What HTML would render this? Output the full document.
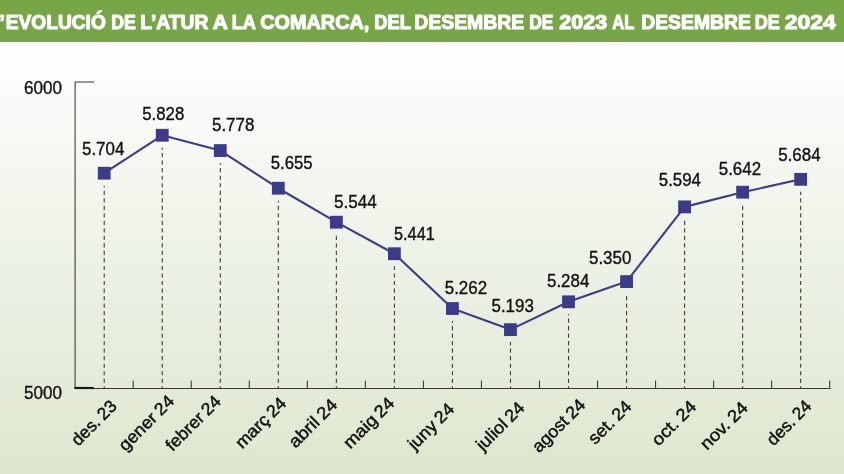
<!DOCTYPE html>
<html><head><meta charset="utf-8"><title>Evolució de l'atur</title>
<style>
html,body{margin:0;padding:0;background:#fff;}
body{width:844px;height:474px;overflow:hidden;font-family:"Liberation Sans",sans-serif;}
svg{display:block;will-change:transform;}
text{font-family:"Liberation Sans",sans-serif;}
</style></head><body>
<svg width="844" height="474" viewBox="0 0 844 474">
<defs>
<linearGradient id="bg" x1="0" y1="0" x2="0" y2="1">
<stop offset="0" stop-color="#ffffff"/>
<stop offset="0.12" stop-color="#fefefe"/>
<stop offset="0.5" stop-color="#eef3e8"/>
<stop offset="1" stop-color="#dde7cf"/>
</linearGradient>
</defs>
<rect x="0" y="0" width="844" height="474" fill="url(#bg)"/>
<rect x="0" y="0" width="844" height="42" fill="#76a646"/>

<g fill="#ffffff" stroke="#ffffff" stroke-width="1.1" stroke-linejoin="round" font-weight="bold" font-size="19.5">
<text x="-0.5" y="28.6">’</text>
<text x="5.75" y="28.6" textLength="100.04" lengthAdjust="spacingAndGlyphs">EVOLUCIÓ</text>
<text x="111.25" y="28.6" textLength="24.59" lengthAdjust="spacingAndGlyphs">DE</text>
<text x="140.25" y="28.6" textLength="68.07" lengthAdjust="spacingAndGlyphs">L’ATUR</text>
<text x="212.75" y="28.6" textLength="15.15" lengthAdjust="spacingAndGlyphs">A</text>
<text x="231.75" y="28.6" textLength="24.19" lengthAdjust="spacingAndGlyphs">LA</text>
<text x="260.25" y="28.6" textLength="109.04" lengthAdjust="spacingAndGlyphs">COMARCA,</text>
<text x="374.25" y="28.6" textLength="36.61" lengthAdjust="spacingAndGlyphs">DEL</text>
<text x="414.25" y="28.6" textLength="110.05" lengthAdjust="spacingAndGlyphs">DESEMBRE</text>
<text x="529.25" y="28.6" textLength="24.12" lengthAdjust="spacingAndGlyphs">DE</text>
<text x="559.25" y="28.6" textLength="48.03" lengthAdjust="spacingAndGlyphs">2023</text>
<text x="612.25" y="28.6" textLength="22.05" lengthAdjust="spacingAndGlyphs">AL</text>
<text x="641.25" y="28.6" textLength="109.54" lengthAdjust="spacingAndGlyphs">DESEMBRE</text>
<text x="754.75" y="28.6" textLength="25.14" lengthAdjust="spacingAndGlyphs">DE</text>
<text x="784.75" y="28.6" textLength="51.03" lengthAdjust="spacingAndGlyphs">2024</text>
</g>
<g stroke="#3c3c3c" stroke-width="1.1" fill="none" stroke-dasharray="4.2,3.32" stroke-dashoffset="2.0">
<line x1="104.2" y1="388.4" x2="104.2" y2="185.7"/>
<line x1="162.24" y1="388.4" x2="162.24" y2="147.8"/>
<line x1="220.28" y1="388.4" x2="220.28" y2="163.1"/>
<line x1="278.32" y1="388.4" x2="278.32" y2="200.7"/>
<line x1="336.36" y1="388.4" x2="336.36" y2="234.7"/>
<line x1="394.4" y1="388.4" x2="394.4" y2="266.2"/>
<line x1="452.44" y1="388.4" x2="452.44" y2="321.0"/>
<line x1="510.48" y1="388.4" x2="510.48" y2="342.1"/>
<line x1="568.52" y1="388.4" x2="568.52" y2="314.3"/>
<line x1="626.56" y1="388.4" x2="626.56" y2="294.1"/>
<line x1="684.6" y1="388.4" x2="684.6" y2="219.4"/>
<line x1="742.64" y1="388.4" x2="742.64" y2="204.7"/>
<line x1="800.68" y1="388.4" x2="800.68" y2="191.8"/>
</g>
<g stroke="#38382f" stroke-width="1.05" fill="none">
<path d="M94 82 H75.1 V388.45 H830.5"/>
<line x1="133.2" y1="380.5" x2="133.2" y2="388.45"/>
<line x1="191.24" y1="380.5" x2="191.24" y2="388.45"/>
<line x1="249.28" y1="380.5" x2="249.28" y2="388.45"/>
<line x1="307.32" y1="380.5" x2="307.32" y2="388.45"/>
<line x1="365.36" y1="380.5" x2="365.36" y2="388.45"/>
<line x1="423.4" y1="380.5" x2="423.4" y2="388.45"/>
<line x1="481.44" y1="380.5" x2="481.44" y2="388.45"/>
<line x1="539.48" y1="380.5" x2="539.48" y2="388.45"/>
<line x1="597.52" y1="380.5" x2="597.52" y2="388.45"/>
<line x1="655.56" y1="380.5" x2="655.56" y2="388.45"/>
<line x1="713.6" y1="380.5" x2="713.6" y2="388.45"/>
<line x1="771.64" y1="380.5" x2="771.64" y2="388.45"/>
<line x1="829.68" y1="380.5" x2="829.68" y2="388.45"/>
</g>
<line x1="74.5" y1="388" x2="93.8" y2="388" stroke="#1a1a1a" stroke-width="2.2"/>
<g fill="#111" font-size="17.5" stroke="#111" stroke-width="0.35">
<text x="24.00" y="94" textLength="38.03" lengthAdjust="spacingAndGlyphs">6000</text>
<text x="24.00" y="399" textLength="38.03" lengthAdjust="spacingAndGlyphs">5000</text>
</g>
<polyline points="104.2,173.22 162.24,135.26 220.28,150.56 278.32,188.22 336.36,222.2 394.4,253.73 452.44,308.53 510.48,329.65 568.52,301.8 626.56,281.59 684.6,206.89 742.64,192.2 800.68,179.34" fill="none" stroke="#3d3d86" stroke-width="2.1" stroke-linejoin="round"/>
<g fill="#3a3c88">
<rect x="97.80" y="166.82" width="12.8" height="12.8"/>
<rect x="155.84" y="128.86" width="12.8" height="12.8"/>
<rect x="213.88" y="144.16" width="12.8" height="12.8"/>
<rect x="271.92" y="181.82" width="12.8" height="12.8"/>
<rect x="329.96" y="215.80" width="12.8" height="12.8"/>
<rect x="388.00" y="247.33" width="12.8" height="12.8"/>
<rect x="446.04" y="302.13" width="12.8" height="12.8"/>
<rect x="504.08" y="323.25" width="12.8" height="12.8"/>
<rect x="562.12" y="295.40" width="12.8" height="12.8"/>
<rect x="620.16" y="275.19" width="12.8" height="12.8"/>
<rect x="678.20" y="200.49" width="12.8" height="12.8"/>
<rect x="736.24" y="185.80" width="12.8" height="12.8"/>
<rect x="794.28" y="172.94" width="12.8" height="12.8"/>
</g>
<g fill="#111" font-size="17.5" stroke="#111" stroke-width="0.35">
<text x="82.00" y="154.5" textLength="42.29" lengthAdjust="spacingAndGlyphs">5.704</text>
<text x="142.25" y="119.5" textLength="42.02" lengthAdjust="spacingAndGlyphs">5.828</text>
<text x="212.00" y="130.5" textLength="42.29" lengthAdjust="spacingAndGlyphs">5.778</text>
<text x="270.75" y="168.75" textLength="41.78" lengthAdjust="spacingAndGlyphs">5.655</text>
<text x="334.00" y="208" textLength="42.78" lengthAdjust="spacingAndGlyphs">5.544</text>
<text x="394.00" y="239.75" textLength="40.81" lengthAdjust="spacingAndGlyphs">5.441</text>
<text x="444.75" y="294.25" textLength="42.29" lengthAdjust="spacingAndGlyphs">5.262</text>
<text x="491.50" y="312" textLength="42.29" lengthAdjust="spacingAndGlyphs">5.193</text>
<text x="547.00" y="287" textLength="42.29" lengthAdjust="spacingAndGlyphs">5.284</text>
<text x="589.00" y="263.75" textLength="42.29" lengthAdjust="spacingAndGlyphs">5.350</text>
<text x="658.75" y="185.75" textLength="42.27" lengthAdjust="spacingAndGlyphs">5.594</text>
<text x="718.75" y="174.5" textLength="42.29" lengthAdjust="spacingAndGlyphs">5.642</text>
<text x="778.25" y="161.25" textLength="42.29" lengthAdjust="spacingAndGlyphs">5.684</text>
</g>
<g fill="#111" font-size="17.3" word-spacing="-1.2" stroke="#111" stroke-width="0.45">
<text transform="translate(78.25,446.75) rotate(-45)" textLength="55.87" lengthAdjust="spacingAndGlyphs">des. 23</text>
<text transform="translate(125.50,452.00) rotate(-45)" textLength="70.49" lengthAdjust="spacingAndGlyphs">gener 24</text>
<text transform="translate(172.50,452.00) rotate(-45)" textLength="69.99" lengthAdjust="spacingAndGlyphs">febrer 24</text>
<text transform="translate(242.25,449.50) rotate(-45)" textLength="63.84" lengthAdjust="spacingAndGlyphs">març 24</text>
<text transform="translate(295.50,448.75) rotate(-45)" textLength="60.67" lengthAdjust="spacingAndGlyphs">abril 24</text>
<text transform="translate(350.25,449.50) rotate(-45)" textLength="64.06" lengthAdjust="spacingAndGlyphs">maig 24</text>
<text transform="translate(414.75,450.75) rotate(-45)" textLength="57.44" lengthAdjust="spacingAndGlyphs">juny 24</text>
<text transform="translate(483.00,451.50) rotate(-45)" textLength="60.48" lengthAdjust="spacingAndGlyphs">juliol 24</text>
<text transform="translate(539.00,453.50) rotate(-45)" textLength="67.11" lengthAdjust="spacingAndGlyphs">agost 24</text>
<text transform="translate(595.10,445.20) rotate(-45)" textLength="53.25" lengthAdjust="spacingAndGlyphs">set. 24</text>
<text transform="translate(658.50,446.70) rotate(-45)" textLength="55.18" lengthAdjust="spacingAndGlyphs">oct. 24</text>
<text transform="translate(707.00,450.80) rotate(-45)" textLength="59.48" lengthAdjust="spacingAndGlyphs">nov. 24</text>
<text transform="translate(773.40,446.50) rotate(-45)" textLength="55.48" lengthAdjust="spacingAndGlyphs">des. 24</text>
</g>
</svg></body></html>
